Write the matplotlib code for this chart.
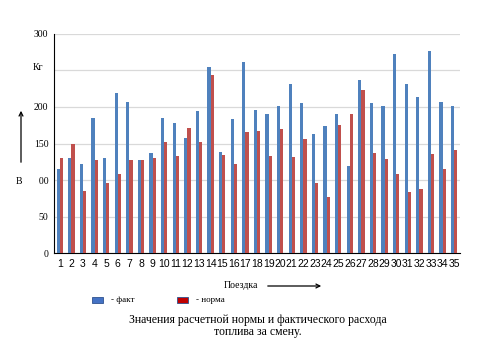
import matplotlib.pyplot as plt
import numpy as np
from matplotlib.patches import Rectangle, FancyArrowPatch

trips = [str(i) for i in range(1, 36)]
fact = [115, 130, 122, 185, 130, 219, 207, 127, 137, 185,
        178, 158, 194, 254, 138, 183, 261, 196, 190, 201,
        231, 205, 163, 174, 190, 119, 237, 205, 201, 272,
        231, 214, 276, 207, 201]
norm = [130, 150, 85, 127, 96, 108, 127, 127, 130, 152,
        133, 171, 152, 243, 134, 122, 166, 167, 133, 170,
        131, 156, 96, 77, 175, 190, 223, 137, 129, 108,
        84, 88, 136, 115, 141]
yticks = [0, 50, 100, 150, 200, 250, 300]
ylabels = ['0', '50', '100', '150', '200', '', '300']

serif = 'Liberation Serif'
sans = 'Liberation Sans'

fig = plt.figure(figsize=(4.8, 3.6), dpi=100)
ax = fig.add_axes([54 / 480, 1 - 253.3 / 360, 406 / 480, 219.6 / 360])

x = np.arange(len(trips))
w = 0.27
ax.bar(x - w / 2, fact, width=w, color='#4F81BD', zorder=3)
ax.bar(x + w / 2, norm, width=w, color='#C0504D', zorder=3)

ax.set_xlim(-0.5, len(trips) - 0.5)
ax.set_ylim(0, 300)
ax.set_yticks(yticks)
ax.set_yticklabels(ylabels, fontfamily=serif, fontsize=7)
ax.set_xticks(x)
ax.set_xticklabels(trips, fontfamily=sans, fontsize=7.5)
ax.tick_params(length=0, pad=4)
ax.grid(axis='y', color='#D9D9D9', linewidth=0.9, zorder=0)
for s in ['top', 'right']:
    ax.spines[s].set_visible(False)
ax.spines['left'].set_color('black')
ax.spines['bottom'].set_color('black')

# white box over the start of the "100" label, as in the source
fig.patches.append(Rectangle((10 / 480, 1 - 188 / 360), 29 / 480, 14 / 360,
                             transform=fig.transFigure, facecolor='white',
                             edgecolor='none', zorder=5))
fig.text(19 / 480, 1 - 181 / 360, 'В', fontfamily=serif, fontsize=7,
         ha='center', va='center', zorder=6)
fig.text(38 / 480, 1 - 67 / 360, 'Кг', fontfamily=serif, fontsize=7,
         ha='center', va='center', bbox=dict(facecolor='white', edgecolor='none', pad=1))
fig.patches.append(FancyArrowPatch((21 / 480, 1 - 165 / 360), (21 / 480, 1 - 108 / 360),
                                   transform=fig.transFigure, arrowstyle='->',
                                   mutation_scale=7, color='black', lw=0.9))

fig.text(241 / 480, 1 - 286 / 360, 'Поездка', fontfamily=serif, fontsize=7,
         ha='center', va='center')
fig.patches.append(FancyArrowPatch((265 / 480, 1 - 286 / 360), (324 / 480, 1 - 286 / 360),
                                   transform=fig.transFigure, arrowstyle='->',
                                   mutation_scale=7, color='black', lw=0.9))

# legend
fig.patches.append(Rectangle((92 / 480, 1 - 303 / 360), 11 / 480, 6 / 360,
                             transform=fig.transFigure, facecolor='#4472C4',
                             edgecolor='#2F528F', lw=0.6))
fig.text(111 / 480, 1 - 300 / 360, '- факт', fontfamily=serif, fontsize=6.5, va='center')
fig.patches.append(Rectangle((177 / 480, 1 - 303 / 360), 11 / 480, 6 / 360,
                             transform=fig.transFigure, facecolor='#C00000',
                             edgecolor='#2F528F', lw=0.6))
fig.text(196 / 480, 1 - 300 / 360, '- норма', fontfamily=serif, fontsize=6.5, va='center')

fig.text(258 / 480, 1 - 326 / 360,
         'Значения расчетной нормы и фактического расхода\nтоплива за смену.',
         fontfamily=serif, fontsize=8.5, ha='center', va='center', linespacing=1.0)

fig.savefig('out.png', dpi=100)
